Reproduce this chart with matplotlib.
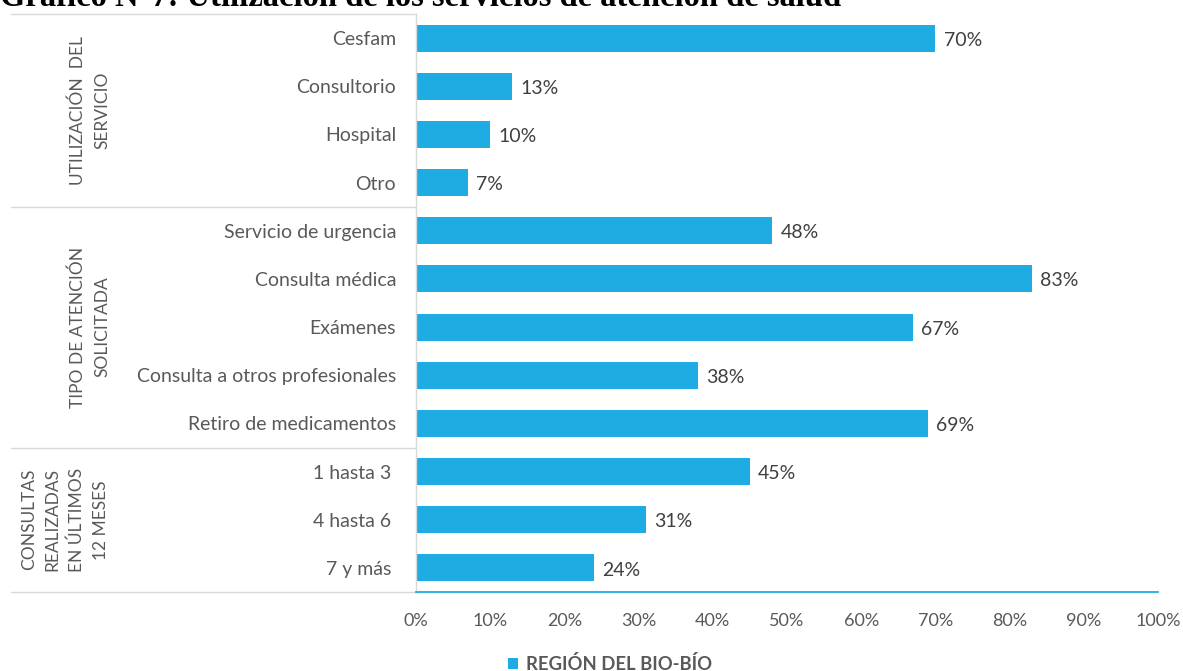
import matplotlib
matplotlib.use("Agg")
import matplotlib.pyplot as plt
from matplotlib.transforms import blended_transform_factory
from matplotlib.ticker import FuncFormatter

# Data
categories = ["Cesfam", "Consultorio", "Hospital", "Otro",
              "Servicio de urgencia", "Consulta médica", "Exámenes",
              "Consulta a otros profesionales", "Retiro de medicamentos",
              "1 hasta 3 ", "4 hasta 6 ", "7 y más "]
values = [70, 13, 10, 7, 48, 83, 67, 38, 69, 45, 31, 24]
groups = ["UTILIZACIÓN  DEL\nSERVICIO",
          "TIPO DE ATENCIÓN\nSOLICITADA",
          "CONSULTAS\nREALIZADAS\nEN ÚLTIMOS\n12 MESES"]
group_sizes = [4, 5, 3]
series_name = "REGIÓN DEL BIO-BÍO"
title = "Gráfico N°7: Utilización de los servicios de atención de salud"

BLUE = "#1FACE2"
GRID = "#D9D9D9"
TXT = "#595959"
FONT = "Lato"

W, H = 1183, 671
fig = plt.figure(figsize=(W / 100, H / 100), dpi=100)
ax = fig.add_axes([416 / W, 1 - 592 / H, 742 / W, 578 / H])

ypos = list(range(len(categories)))
bars = ax.barh(ypos, values, height=0.56, color=BLUE, label=series_name)

ax.set_xlim(0, 100)
ax.set_ylim(len(categories) - 0.5, -0.5)
ax.set_xticks(range(0, 101, 10))
ax.xaxis.set_major_formatter(FuncFormatter(lambda v, p: f"{int(v)}%"))
ax.set_yticks(ypos)
ax.set_yticklabels(categories)
ax.tick_params(axis="both", length=0, colors=TXT)
ax.tick_params(axis="y", pad=14.4, labelsize=14)
ax.tick_params(axis="x", pad=14.8, labelsize=13)
for lab in ax.get_xticklabels() + ax.get_yticklabels():
    lab.set_fontfamily(FONT)

for s in ("top", "right"):
    ax.spines[s].set_visible(False)
ax.spines["left"].set_color(GRID)
ax.spines["left"].set_linewidth(1.0)
ax.spines["bottom"].set_color(BLUE)
ax.spines["bottom"].set_linewidth(1.3)

# Value labels
for b, v in zip(bars, values):
    ax.annotate(f"{v}%", (b.get_width(), b.get_y() + b.get_height() / 2),
                xytext=(6, -1.5), textcoords="offset points", va="center",
                ha="left", fontsize=14, color="#404040", fontfamily=FONT)

# Group separators and group labels
tr = blended_transform_factory(ax.transAxes, ax.transData)
x_left = (11 - 416) / 742
bounds = [-0.5]
for n in group_sizes:
    bounds.append(bounds[-1] + n)
for y in bounds:
    ax.plot([x_left, 0], [y, y], transform=tr, color=GRID, lw=1.0,
            clip_on=False)

group_x = [90, 90, 65]
for g, gx, y0, y1 in zip(groups, group_x, bounds[:-1], bounds[1:]):
    ax.text((gx - 416) / 742, (y0 + y1) / 2, g, transform=tr, rotation=90,
            ha="center", va="center", multialignment="center",
            fontsize=12.5, color=TXT, fontfamily=FONT, linespacing=1.6)

# Legend
fig.legend(handles=[bars], labels=[series_name], loc="center",
           bbox_to_anchor=(610 / W, 1 - 664 / H), frameon=False,
           handlelength=0.55, handleheight=0.55, handletextpad=0.45,
           borderpad=0, prop={"family": FONT, "weight": "bold", "size": 13.3},
           labelcolor=TXT)

# Title (partially above the canvas)
fig.text(0.0, 1 - 6 / H, title, ha="left", va="baseline",
         fontsize=23.5, fontweight="bold", fontfamily="Liberation Serif",
         color="black")

fig.savefig("out.png", dpi=100)
